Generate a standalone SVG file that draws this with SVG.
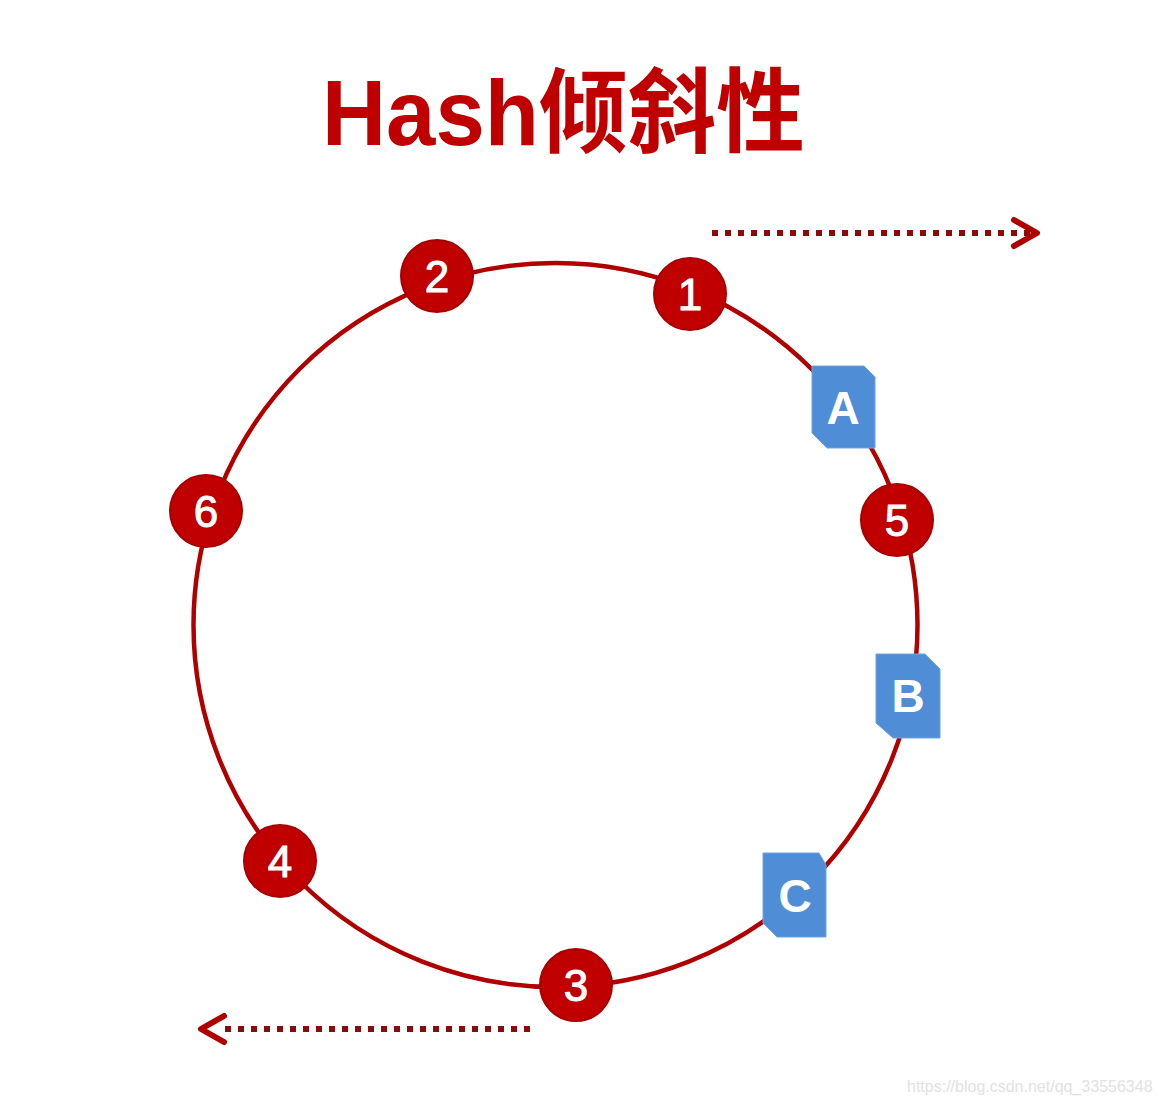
<svg xmlns="http://www.w3.org/2000/svg" width="1160" height="1105" viewBox="0 0 1160 1105">
<defs>
<style>
.title{font-family:"Liberation Sans","Noto Sans CJK SC",sans-serif;font-weight:bold;font-size:92px;fill:#c00000}
.ring{fill:none;stroke:#b00000;stroke-width:4.5}
.node circle{fill:#c00000;stroke:#a80000;stroke-width:2}
.node text{font-family:"Liberation Sans",sans-serif;font-size:44px;fill:#fff;stroke:#fff;stroke-width:1;text-anchor:middle}
.tag path{fill:#4f8ed6;stroke:#6fa4e0;stroke-width:1}
.tag text{font-family:"Liberation Sans",sans-serif;font-weight:bold;font-size:46px;fill:#fff;text-anchor:middle}
.dots{stroke:#8e0a0a;stroke-width:6;stroke-dasharray:6 7;fill:none}
.head{stroke:#b00000;stroke-width:6;fill:none;stroke-linecap:round;stroke-linejoin:round}
.wm{font-family:"Liberation Sans",sans-serif;font-size:16px;fill:#e2e2e2}
</style>
</defs>
<rect width="1160" height="1105" fill="#ffffff"/>
<text class="title" x="322" y="145" textLength="483" lengthAdjust="spacingAndGlyphs">Hash倾斜性</text>
<g id="connectors">
<circle class="ring" cx="555.5" cy="625" r="362"/>
<line class="dots" x1="712" y1="233" x2="1030" y2="233"/>
<polyline class="head" points="1014,220 1037,233 1014,246"/>
<line class="dots" x1="530" y1="1029" x2="222" y2="1029"/>
<polyline class="head" points="224,1016 201,1029 224,1042"/>
</g>
<g id="node1" class="node"><circle cx="690" cy="294" r="36"/><text x="690" y="310">1</text></g>
<g id="node2" class="node"><circle cx="437" cy="276" r="36"/><text x="437" y="292">2</text></g>
<g id="node3" class="node"><circle cx="576" cy="985" r="36"/><text x="576" y="1001">3</text></g>
<g id="node4" class="node"><circle cx="280" cy="861" r="36"/><text x="280" y="877">4</text></g>
<g id="node5" class="node"><circle cx="897" cy="520" r="36"/><text x="897" y="536">5</text></g>
<g id="node6" class="node"><circle cx="206" cy="511" r="36"/><text x="206" y="527">6</text></g>
<g id="tagA" class="tag"><path d="M812,366 H864 L875,377 V448 H827 L812,433 Z"/><text x="843" y="424">A</text></g>
<g id="tagB" class="tag"><path d="M876,654 H925 L940,669 V738 H893 L876,723 Z"/><text x="908" y="712">B</text></g>
<g id="tagC" class="tag"><path d="M763,853 H819 L826,865 V937 H777 L763,923 Z"/><text x="795" y="912">C</text></g>
<text class="wm" x="907" y="1092">https://blog.csdn.net/qq_33556348</text>
</svg>
